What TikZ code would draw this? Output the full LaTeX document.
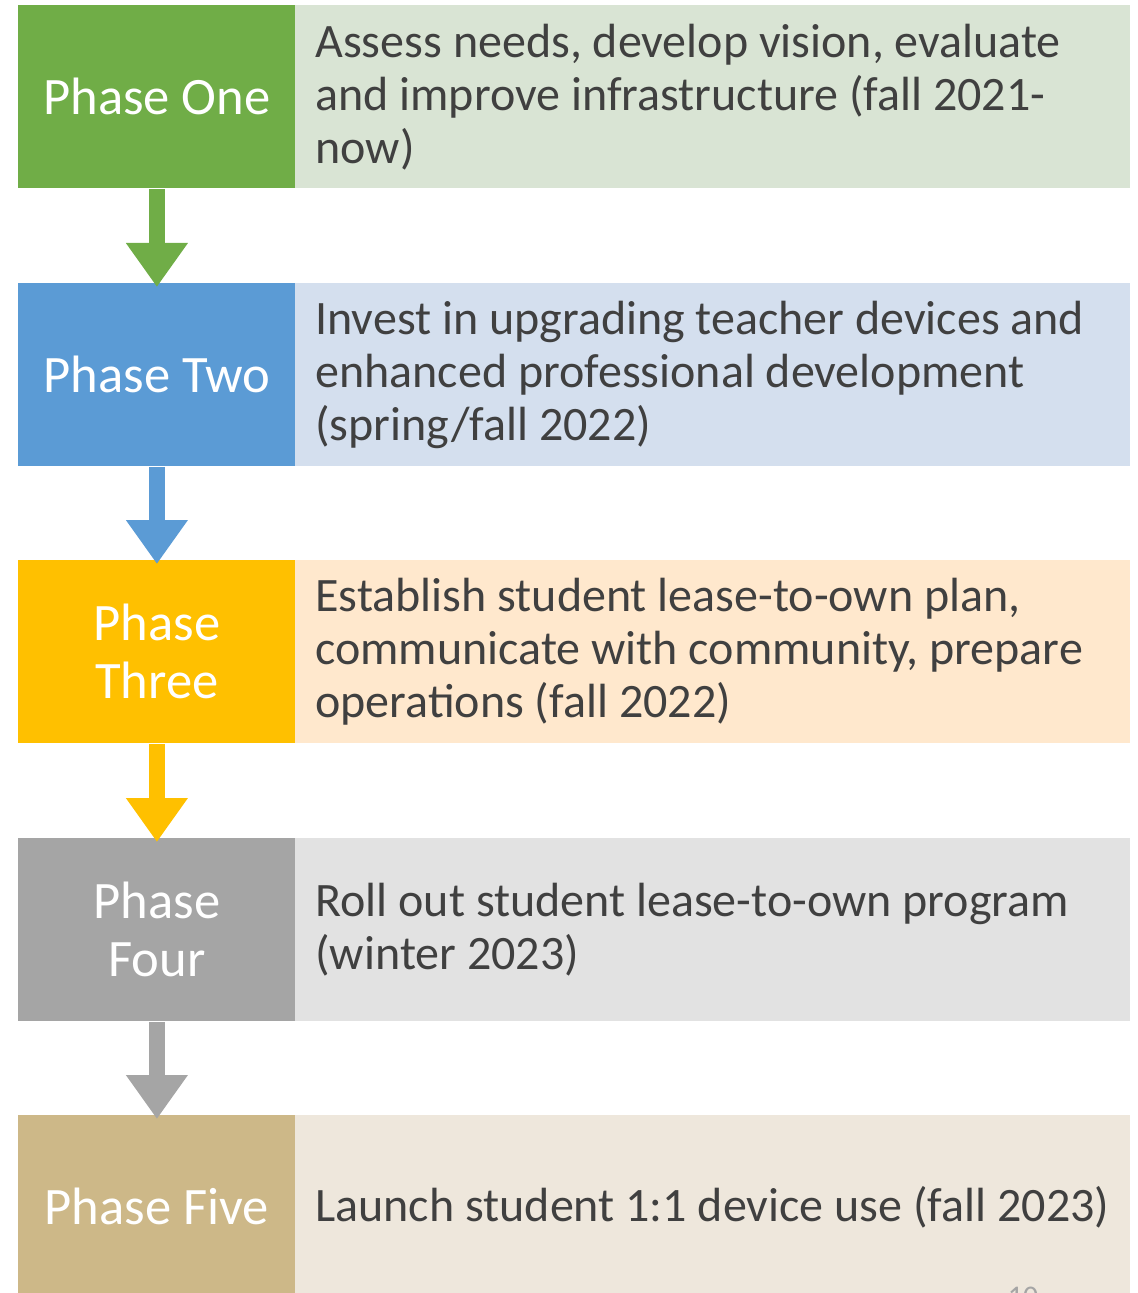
\documentclass[tikz,border=0pt]{standalone}
\usepackage{fontspec}
\setmainfont{Carlito}
\usetikzlibrary{arrows.meta}
\definecolor{gA}{HTML}{70AD47}\definecolor{gAl}{HTML}{D9E4D4}
\definecolor{bA}{HTML}{5B9BD5}\definecolor{bAl}{HTML}{D4DFEE}
\definecolor{yA}{HTML}{FFC000}\definecolor{yAl}{HTML}{FFE8CD}
\definecolor{kA}{HTML}{A5A5A5}\definecolor{kAl}{HTML}{E2E2E2}
\definecolor{tA}{HTML}{CDB888}\definecolor{tAl}{HTML}{EEE7DC}
\definecolor{txt}{HTML}{404040}
\tikzset{
  phasebox/.style={anchor=north west, minimum width=138.5pt, minimum height=91.5pt,
    inner sep=0pt, text=white, align=center, font=\fontsize{26.3pt}{29pt}\selectfont},
  descbox/.style={anchor=north west, minimum width=417.5pt, minimum height=91.5pt, inner sep=0pt},
  desctext/.style={anchor=west, inner sep=0pt, align=left, text=txt,
    font=\fontsize{24pt}{26.5pt}\selectfont}
}
\tikzset{flowarrow/.style={line width=8pt, -{Triangle[width=29.5pt,length=22pt]}, shorten >=-2pt}}
\begin{document}
\begin{tikzpicture}[x=0.5pt,y=-0.5pt]
\useasboundingbox (0,0) rectangle (1138,1293);
\node[phasebox, fill=gA] (p1) at (18,5) {Phase One};
\node[descbox, fill=gAl] (d1) at (295,5) {};
\node[desctext] (t1) at ([xshift=10pt]d1.west) {Assess needs, develop vision, evaluate\\and improve infrastructure (fall 2021-\\now)};
\node[phasebox, fill=bA] (p2) at (18,283) {Phase Two};
\node[descbox, fill=bAl] (d2) at (295,283) {};
\node[desctext] (t2) at ([xshift=10pt]d2.west) {Invest in upgrading teacher devices and\\enhanced professional development\\(spring/fall 2022)};
\node[phasebox, fill=yA] (p3) at (18,560) {Phase\\Three};
\node[descbox, fill=yAl] (d3) at (295,560) {};
\node[desctext] (t3) at ([xshift=10pt]d3.west) {Establish student lease-to-own plan,\\communicate with community, prepare\\operations (fall 2022)};
\node[phasebox, fill=kA] (p4) at (18,838) {Phase\\Four};
\node[descbox, fill=kAl] (d4) at (295,838) {};
\node[desctext] (t4) at ([xshift=10pt]d4.west) {Roll out student lease-to-own program\\(winter 2023)};
\node[phasebox, fill=tA] (p5) at (18,1115) {Phase Five};
\node[descbox, fill=tAl] (d5) at (295,1115) {};
\node[desctext] (t5) at ([xshift=10pt]d5.west) {Launch student 1:1 device use (fall 2023)};
\draw[flowarrow, gA] (p1.south) -- (p2.north);
\draw[flowarrow, bA] (p2.south) -- (p3.north);
\draw[flowarrow, yA] (p3.south) -- (p4.north);
\draw[flowarrow, kA] (p4.south) -- (p5.north);
\node[anchor=north, inner sep=0pt, text=kA, font=\fontsize{15pt}{16pt}\selectfont] (pg) at (1023,1287) {10};
\end{tikzpicture}
\end{document}
